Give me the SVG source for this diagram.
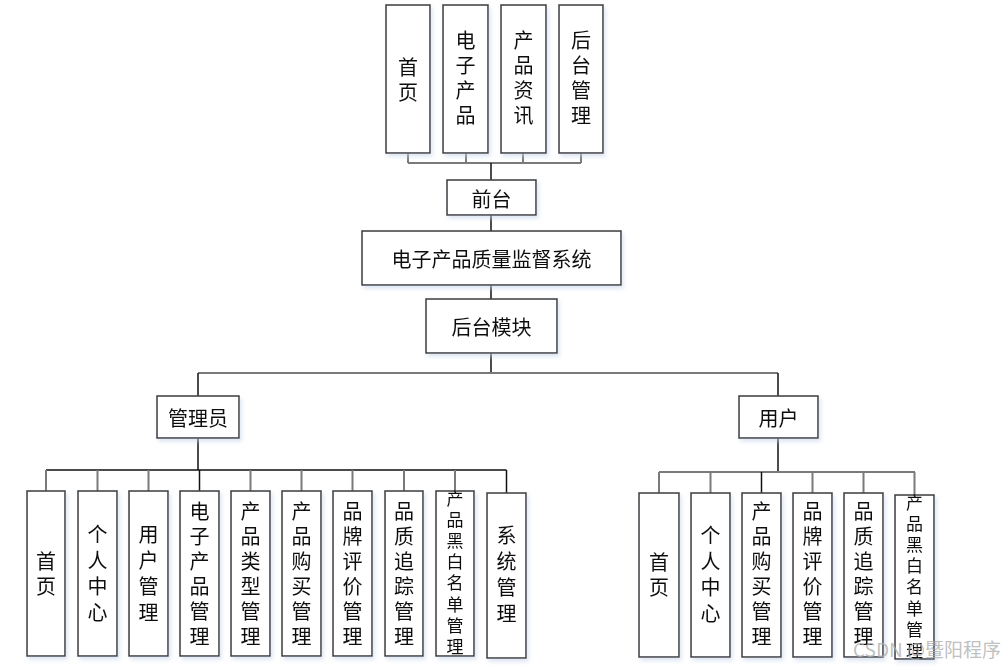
<svg xmlns="http://www.w3.org/2000/svg" width="1007" height="667" viewBox="0 0 1007 667">
<defs>
<style>
.box{fill:#ffffff;stroke:#3a3a3a;stroke-width:1.5}
.t{font-family:"Noto Sans CJK SC","Noto Sans",sans-serif;font-size:20px;fill:#111;text-anchor:middle;dominant-baseline:central}
.v{font-family:"Noto Sans CJK SC","Noto Sans",sans-serif;font-size:20px;fill:#111;text-anchor:middle;writing-mode:vertical-rl;letter-spacing:5px}
.v6{letter-spacing:6px}
.vs{font-family:"Noto Sans CJK SC","Noto Sans",sans-serif;font-size:17px;fill:#111;text-anchor:middle;writing-mode:vertical-rl;letter-spacing:4.2px}
.c{stroke:#7a7a7a;stroke-width:2;fill:none}
.k{stroke:#111;stroke-width:1.5;fill:none}
.wm{font-family:"Noto Sans CJK SC","Liberation Sans",sans-serif;font-size:19px;fill:#b0b0b0;fill-opacity:0.8}
</style>
<filter id="sh" x="-20%" y="-20%" width="140%" height="140%">
<feDropShadow dx="2" dy="3" stdDeviation="2" flood-color="#c8d4ea" flood-opacity="0.6"/>
</filter>
</defs>
<rect width="1007" height="667" fill="#ffffff"/>

<g id="connectors">
<path class="c" d="M408 153V163M466 153V163M523 153V163M581 153V163M408 163H581"/>
<path class="k" d="M491 163V180M491 215V231M491 285V299M491 353V373"/>
<path class="c" d="M198 373H778"/>
<path class="k" d="M198 373V396M778 373V396"/>
<path class="k" d="M198 438V470M46 470H506.5"/>
<path class="c" d="M46 470V491M97.5 470V491M148.5 470V491M250.5 470V491M301.5 470V491M352.5 470V491M404 470V491M455 470V491"/>
<path class="k" d="M199.5 470V491M506.5 470V493"/>
<path class="k" d="M778 438V472"/>
<path class="c" d="M659 472H915M659 472V493M710.5 472V493M812.5 472V493M863.5 472V493M914.5 472V495"/>
<path class="k" d="M761.5 472V493"/>
</g>

<g id="n-home-top" filter="url(#sh)"><rect class="box" x="386" y="5" width="44" height="148"/>
<text class="v" x="408" y="82">首页</text></g>
<g id="n-eprod-top" filter="url(#sh)"><rect class="box" x="443" y="5" width="45" height="148"/>
<text class="v" x="465.5" y="80">电子产品</text></g>
<g id="n-news-top" filter="url(#sh)"><rect class="box" x="501" y="5" width="45" height="148"/>
<text class="v" x="523.5" y="80">产品资讯</text></g>
<g id="n-backend-top" filter="url(#sh)"><rect class="box" x="559" y="5" width="44" height="148"/>
<text class="v" x="581" y="80">后台管理</text></g>

<g id="n-frontend" filter="url(#sh)"><rect class="box" x="447" y="180" width="89" height="35"/>
<text class="t" x="491.5" y="198">前台</text></g>
<g id="n-system" filter="url(#sh)"><rect class="box" x="362" y="231" width="259" height="54"/>
<text class="t" x="491.5" y="258">电子产品质量监督系统</text></g>
<g id="n-backmodule" filter="url(#sh)"><rect class="box" x="426" y="299" width="131" height="54"/>
<text class="t" x="491.5" y="326">后台模块</text></g>

<g id="n-admin" filter="url(#sh)"><rect class="box" x="157" y="396" width="82" height="42"/>
<text class="t" x="198" y="417">管理员</text></g>
<g id="n-user" filter="url(#sh)"><rect class="box" x="739" y="396" width="79" height="42"/>
<text class="t" x="778.5" y="417">用户</text></g>

<g id="a-home" filter="url(#sh)"><rect class="box" x="27" y="491" width="38" height="165"/>
<text class="v" x="46" y="576">首页</text></g>
<g id="a-center" filter="url(#sh)"><rect class="box" x="78" y="491" width="39" height="165"/>
<text class="v v6" x="97.5" y="576">个人中心</text></g>
<g id="a-usermgmt" filter="url(#sh)"><rect class="box" x="129" y="491" width="39" height="165"/>
<text class="v v6" x="148.5" y="576">用户管理</text></g>
<g id="a-eprod" filter="url(#sh)"><rect class="box" x="180" y="491" width="39" height="165"/>
<text class="v" x="199.5" y="576">电子产品管理</text></g>
<g id="a-type" filter="url(#sh)"><rect class="box" x="231" y="491" width="39" height="165"/>
<text class="v" x="250.5" y="576">产品类型管理</text></g>
<g id="a-buy" filter="url(#sh)"><rect class="box" x="282" y="491" width="39" height="165"/>
<text class="v" x="301.5" y="576">产品购买管理</text></g>
<g id="a-brand" filter="url(#sh)"><rect class="box" x="333" y="491" width="39" height="165"/>
<text class="v" x="352.5" y="576">品牌评价管理</text></g>
<g id="a-trace" filter="url(#sh)"><rect class="box" x="385" y="491" width="38" height="165"/>
<text class="v" x="404" y="576">品质追踪管理</text></g>
<g id="a-blacklist" filter="url(#sh)"><rect class="box" x="436" y="491" width="38" height="165"/>
<text class="vs" x="455" y="574.5">产品黑白名单管理</text></g>
<g id="a-system" filter="url(#sh)"><rect class="box" x="487" y="493" width="39" height="165"/>
<text class="v v6" x="506.5" y="577">系统管理</text></g>

<g id="u-home" filter="url(#sh)"><rect class="box" x="639" y="493" width="40" height="164"/>
<text class="v" x="659" y="577">首页</text></g>
<g id="u-center" filter="url(#sh)"><rect class="box" x="691" y="493" width="39" height="164"/>
<text class="v v6" x="710.5" y="577">个人中心</text></g>
<g id="u-buy" filter="url(#sh)"><rect class="box" x="742" y="493" width="39" height="164"/>
<text class="v" x="761.5" y="576">产品购买管理</text></g>
<g id="u-brand" filter="url(#sh)"><rect class="box" x="793" y="493" width="39" height="164"/>
<text class="v" x="812.5" y="576">品牌评价管理</text></g>
<g id="u-trace" filter="url(#sh)"><rect class="box" x="844" y="493" width="39" height="164"/>
<text class="v" x="863.5" y="576">品质追踪管理</text></g>
<g id="u-blacklist" filter="url(#sh)"><rect class="box" x="895" y="495" width="39" height="164"/>
<text class="vs" x="914.5" y="578.5">产品黑白名单管理</text></g>

<text class="wm" x="853" y="657">CSDN @暨阳程序</text>
</svg>
